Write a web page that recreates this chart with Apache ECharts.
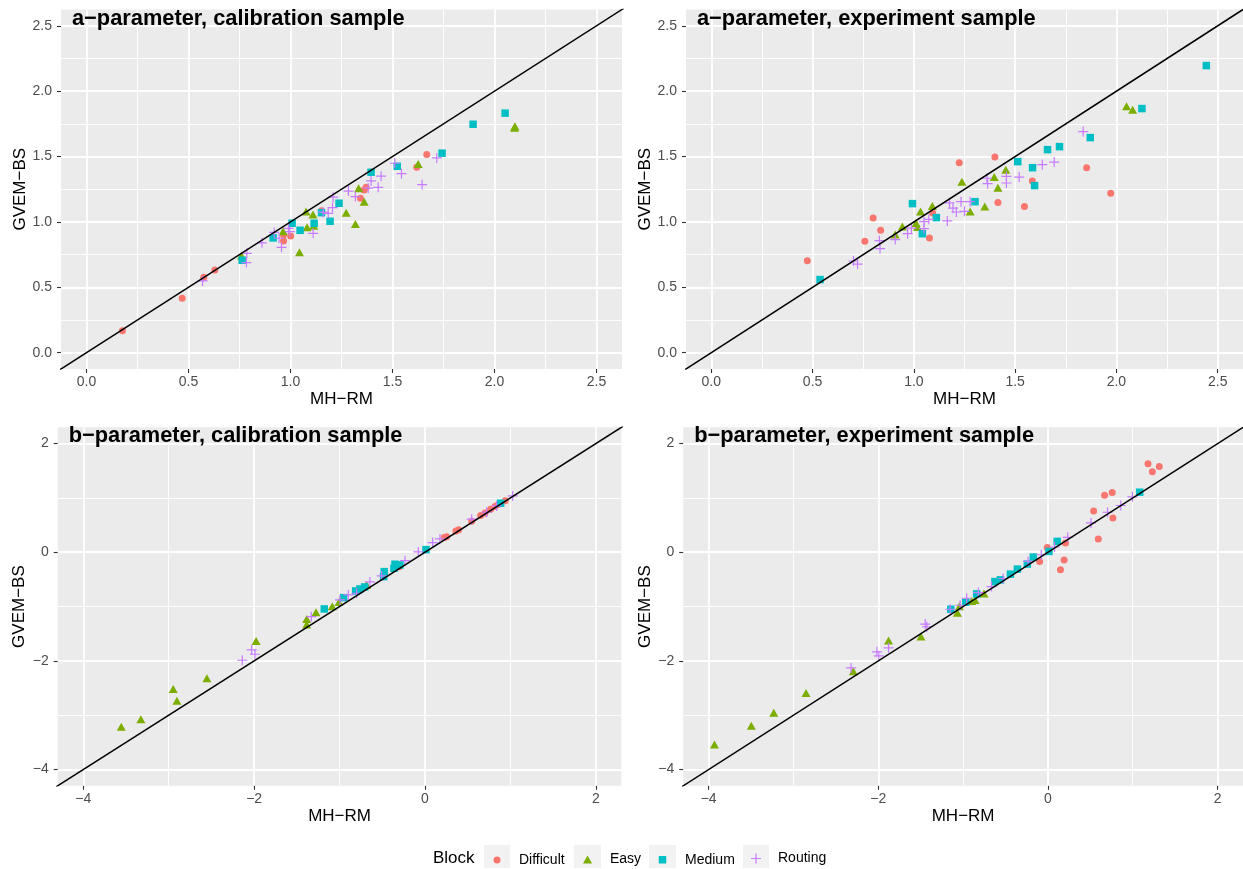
<!DOCTYPE html>
<html>
<head>
<meta charset="utf-8">
<script src="https://cdn.jsdelivr.net/npm/echarts@6/dist/echarts.min.js"></script>
<style>
html, body { margin: 0; padding: 0; background: #fff; }
#chart { width: 1243px; height: 869px; }
</style>
</head>
<body>
<div id="chart"></div>
<script>
// blocks and colours (ggplot default hue palette)
var blocks = ['Difficult', 'Easy', 'Medium', 'Routing'];
var blockColors = ['#F8766D', '#7CAE00', '#00BFC4', '#C77CFF'];
var panelTitles = ['a\u2212parameter, calibration sample', 'a\u2212parameter, experiment sample',
                   'b\u2212parameter, calibration sample', 'b\u2212parameter, experiment sample'];

// axis limits and tick labels
var aLimits = [-0.125, 2.625];
var bLimits = [-4.3, 2.3];
var aTicks = [0, 0.5, 1, 1.5, 2, 2.5];
var bTicks = [-4, -2, 0, 2];
var identity = [[-10, -10], [10, 10]];

// a-parameter, calibration sample  [MH-RM, GVEM-BS]
var aCalDifficult = [[0.176,0.168],[0.469,0.416],[0.575,0.577],[0.629,0.633],[0.966,0.900],[0.966,0.855],[1.001,0.893],
  [1.152,1.086],[1.343,1.181],[1.361,1.245],[1.371,1.265],[1.619,1.418],[1.668,1.515]];
var aCalEasy = [[0.760,0.742],[0.964,0.929],[1.044,0.768],[1.076,1.079],[1.081,0.960],[1.110,1.056],[1.114,0.970],
  [1.273,1.071],[1.318,0.985],[1.334,1.258],[1.361,1.155],[1.626,1.444],[2.098,1.721],[2.100,1.732]];
var aCalMedium = [[0.763,0.707],[0.915,0.878],[1.008,0.990],[1.047,0.936],[1.116,0.990],[1.152,1.071],[1.194,1.005],
  [1.238,1.143],[1.395,1.380],[1.523,1.426],[1.743,1.526],[1.895,1.747],[2.052,1.832]];
var aCalRouting = [[0.569,0.549],[0.784,0.689],[0.786,0.760],[0.860,0.840],[0.920,0.920],[0.944,0.875],[0.956,0.806],
  [0.990,0.950],[0.997,0.926],[1.111,0.913],[1.160,1.075],[1.185,1.066],[1.206,1.110],[1.209,1.189],[1.284,1.236],
  [1.318,1.194],[1.381,1.258],[1.395,1.314],[1.430,1.265],[1.444,1.350],[1.511,1.449],[1.544,1.369],[1.645,1.285],[1.717,1.490]];

// a-parameter, experiment sample
var aExpDifficult = [[0.474,0.704],[0.758,0.852],[0.799,1.030],[0.836,0.936],[1.077,0.877],[1.093,1.068],[1.224,1.452],
  [1.400,1.497],[1.415,1.148],[1.546,1.119],[1.585,1.313],[1.853,1.415],[1.972,1.219]];
var aExpEasy = [[0.908,0.903],[0.943,0.966],[1.011,0.992],[1.018,0.961],[1.033,1.079],[1.091,1.122],[1.237,1.308],
  [1.278,1.079],[1.350,1.119],[1.397,1.343],[1.415,1.262],[1.454,1.400],[2.050,1.884],[2.080,1.859]];
var aExpMedium = [[0.537,0.559],[0.993,1.140],[1.042,0.910],[1.111,1.033],[1.302,1.155],[1.513,1.461],[1.586,1.415],
  [1.596,1.278],[1.660,1.553],[1.719,1.576],[1.871,1.645],[2.126,1.867],[2.444,2.196]];
var aExpRouting = [[0.702,0.701],[0.722,0.678],[0.830,0.857],[0.833,0.796],[0.908,0.865],[0.969,0.910],[0.988,0.953],
  [1.050,1.002],[1.050,0.949],[1.074,1.020],[1.165,1.008],[1.176,1.146],[1.193,1.105],[1.210,1.076],[1.233,1.155],
  [1.250,1.081],[1.278,1.155],[1.361,1.334],[1.364,1.293],[1.457,1.349],[1.457,1.298],[1.520,1.343],[1.634,1.438],
  [1.693,1.458],[1.836,1.691]];

// b-parameter, calibration sample
var bCalDifficult = [[-0.301,-0.265],[0.226,0.269],[0.254,0.287],[0.363,0.392],[0.394,0.416],[0.547,0.571],[0.652,0.674],
  [0.703,0.724],[0.769,0.792],[0.820,0.840],[0.858,0.877],[0.940,0.950]];
var bCalEasy = [[-3.556,-3.212],[-3.326,-3.076],[-2.947,-2.518],[-2.904,-2.733],[-2.553,-2.320],[-1.977,-1.636],
  [-1.385,-1.228],[-1.385,-1.330],[-1.276,-1.105],[-1.085,-0.994],[-1.007,-0.915],[-0.683,-0.602]];
var bCalMedium = [[-1.179,-1.044],[-0.952,-0.836],[-0.811,-0.713],[-0.761,-0.676],[-0.706,-0.639],[-0.484,-0.449],
  [-0.477,-0.357],[-0.351,-0.221],[-0.363,-0.295],[-0.293,-0.234],[0.012,0.048],[0.886,0.902]];
var bCalRouting = [[-2.139,-1.989],[-2.029,-1.799],[-1.991,-1.878],[-1.331,-1.186],[-0.995,-0.878],[-0.898,-0.786],
  [-0.800,-0.755],[-0.644,-0.547],[-0.507,-0.436],[-0.234,-0.155],[-0.078,0.006],[0.090,0.177],[0.176,0.245],
  [0.547,0.608],[0.722,0.737],[0.839,0.853],[1.027,1.037]];

// b-parameter, experiment sample
var bExpDifficult = [[-0.098,-0.170],[-0.008,0.089],[0.148,-0.323],[0.191,-0.145],[0.207,0.170],[0.539,0.761],
  [0.594,0.244],[0.668,1.050],[0.758,1.100],[0.766,0.632],[1.180,1.630],[1.231,1.482],[1.313,1.580]];
var bExpEasy = [[-3.931,-3.540],[-3.497,-3.194],[-3.232,-2.954],[-2.852,-2.591],[-2.294,-2.190],[-1.879,-1.623],
  [-1.497,-1.550],[-1.067,-1.113],[-1.043,-0.995],[-0.899,-0.896],[-0.859,-0.878],[-0.754,-0.762]];
var bExpMedium = [[-1.145,-1.050],[-0.969,-0.921],[-0.840,-0.767],[-0.625,-0.540],[-0.559,-0.508],[-0.442,-0.403],
  [-0.360,-0.311],[-0.243,-0.218],[-0.172,-0.089],[0.012,0.015],[0.109,0.200],[1.082,1.105]];
var bExpRouting = [[-2.321,-2.129],[-2.016,-1.834],[-1.993,-1.908],[-1.879,-1.760],[-1.446,-1.322],[-1.427,-1.372],
  [-1.152,-1.050],[-1.035,-0.976],[-0.958,-0.847],[-0.821,-0.743],[-0.665,-0.632],[-0.528,-0.484],[-0.234,-0.170],
  [-0.078,-0.046],[0.078,0.096],[0.234,0.274],[0.508,0.540],[0.703,0.736],[0.859,0.860],[0.996,1.020]];

var panelData = [
  [aCalDifficult, aCalEasy, aCalMedium, aCalRouting],
  [aExpDifficult, aExpEasy, aExpMedium, aExpRouting],
  [bCalDifficult, bCalEasy, bCalMedium, bCalRouting],
  [bExpDifficult, bExpEasy, bExpMedium, bExpRouting]
];

var FONT = 'Liberation Sans, Arial, sans-serif';
var plusPath = 'path://M4.4,0H5.6V10H4.4Z M0,4.4H10V5.6H0Z';
var blockSymbols = ['circle', 'triangle', 'rect', plusPath];
var blockSizes = [7, [9, 8], 7.5, 10];

// panel boxes
var grids = [
  { left: 61, top: 9.5, width: 561, height: 359.5 },
  { left: 686, top: 9.5, width: 561, height: 359.5 },
  { left: 57.7, top: 427.3, width: 563.7, height: 358.5 },
  { left: 683.2, top: 427.3, width: 563, height: 358.5 }
];
var yNameGaps = [32, 32, 29.5, 29.5];

function fmtA(v) { return v.toFixed(1); }
function fmtB(v) { return String(v).replace('-', '\u2212'); }

function makeAxis(i, isX) {
  var isA = i < 2;
  var lim = isA ? aLimits : bLimits;
  var ticks = isA ? aTicks : bTicks;
  var step = isA ? 0.5 : 2;
  return {
    type: 'value',
    gridIndex: i,
    min: lim[0],
    max: lim[1],
    splitNumber: isA ? 5 : 3,
    minInterval: step,
    maxInterval: step,
    name: isX ? 'MH\u2212RM' : 'GVEM\u2212BS',
    nameLocation: 'middle',
    nameGap: isX ? 22 : yNameGaps[i],
    nameTextStyle: { color: '#000', fontSize: 17, fontFamily: FONT },
    axisLine: { show: false, onZero: false },
    axisTick: { show: true, length: 4, customValues: ticks, lineStyle: { color: '#333', width: 1.1 } },
    axisLabel: {
      color: '#4D4D4D', fontSize: 14, fontFamily: FONT, margin: isX ? 6 : 9,
      customValues: ticks,
      formatter: isA ? fmtA : fmtB
    },
    splitLine: { show: true, lineStyle: { color: '#fff', width: 1.8 } },
    minorTick: { show: false, splitNumber: 2 },
    minorSplitLine: { show: true, lineStyle: { color: '#fff', width: 0.9 } }
  };
}

var xAxes = [], yAxes = [], series = [], titles = [];
for (var i = 0; i < 4; i++) {
  grids[i].show = true;
  grids[i].backgroundColor = '#EBEBEB';
  grids[i].borderWidth = 0;
  grids[i].containLabel = false;
  xAxes.push(makeAxis(i, true));
  yAxes.push(makeAxis(i, false));
  titles.push({
    text: panelTitles[i],
    left: grids[i].left + 11,
    top: grids[i].top - 2,
    padding: 0,
    textStyle: { color: '#000', fontSize: 21.8, fontWeight: 'bold', fontFamily: FONT }
  });
  for (var b = 0; b < blocks.length; b++) {
    series.push({
      type: 'scatter',
      name: blocks[b],
      xAxisIndex: i,
      yAxisIndex: i,
      data: panelData[i][b],
      symbol: blockSymbols[b],
      symbolSize: blockSizes[b],
      itemStyle: { color: blockColors[b], opacity: 1 },
      z: 2
    });
  }
  series.push({
    type: 'line',
    name: 'identity',
    xAxisIndex: i,
    yAxisIndex: i,
    data: identity,
    showSymbol: false,
    symbol: 'none',
    clip: true,
    silent: true,
    lineStyle: { color: '#000', width: 1.5 },
    z: 3
  });
}

// one legend per key so each key sits in its own grey box
var keyBoxes = [[484, 26], [574, 27], [649, 27], [743, 26]];
var keyText = [519, 610, 685, 778];
var iconW = [7, 9, 7.5, 10], iconH = [7, 8, 7.5, 10];
var legends = [], graphics = [];
graphics.push({ type: 'text', left: 433, top: 850, style: { text: 'Block', fontSize: 17, fill: '#000', fontFamily: FONT } });
for (var k = 0; k < blocks.length; k++) {
  var cx = keyBoxes[k][0] + keyBoxes[k][1] / 2;
  var lx = cx - iconW[k] / 2;
  graphics.push({ type: 'rect', z: -1, shape: { x: keyBoxes[k][0], y: 845, width: keyBoxes[k][1], height: 23 }, style: { fill: '#F2F2F2' } });
  legends.push({
    data: [blocks[k]],
    left: lx,
    top: 856.5 - iconH[k] / 2,
    padding: 0,
    itemWidth: iconW[k],
    itemHeight: iconH[k],
    selectedMode: false,
    textStyle: { color: '#000', fontSize: 14, fontFamily: FONT, padding: [0, 0, 0, keyText[k] - lx - iconW[k] - 5] }
  });
}

var chart = echarts.init(document.getElementById('chart'));
chart.setOption({
  animation: false,
  backgroundColor: '#fff',
  title: titles,
  grid: grids,
  xAxis: xAxes,
  yAxis: yAxes,
  legend: legends,
  graphic: graphics,
  series: series
});
</script>
</body>
</html>
